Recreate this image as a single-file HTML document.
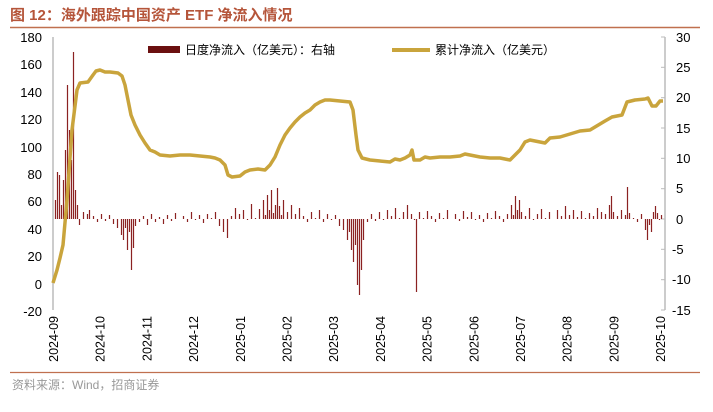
<!DOCTYPE html>
<html><head><meta charset="utf-8">
<style>
body{margin:0;background:#fff;width:713px;height:407px;overflow:hidden}
text{font-family:"Liberation Sans","Noto Sans CJK SC",sans-serif}
</style></head><body>
<svg width="713" height="407" xmlns="http://www.w3.org/2000/svg">
<text x="10" y="20" font-size="15" font-weight="bold" fill="#b5553a">图 12：海外跟踪中国资产 ETF 净流入情况</text>
<line x1="10" y1="27.5" x2="700" y2="27.5" stroke="#c0704f" stroke-width="1.5"/>
<g font-size="13" fill="#000" text-anchor="end">
<text x="42" y="42">180</text><text x="42" y="69">160</text><text x="42" y="97">140</text><text x="42" y="124">120</text><text x="42" y="152">100</text><text x="42" y="179">80</text><text x="42" y="206">60</text><text x="42" y="234">40</text><text x="42" y="261">20</text><text x="42" y="289">0</text><text x="42" y="316">-20</text>
</g>
<line x1="53" y1="37" x2="53" y2="310" stroke="#bbb" stroke-width="1.5"/>
<line x1="665" y1="37" x2="665" y2="310" stroke="#bbb" stroke-width="1.5"/>
<g stroke="#bbb" stroke-width="1">
<line x1="665" y1="37" x2="661" y2="37"/><line x1="665" y1="67.3" x2="661" y2="67.3"/><line x1="665" y1="97.7" x2="661" y2="97.7"/><line x1="665" y1="128" x2="661" y2="128"/><line x1="665" y1="158.3" x2="661" y2="158.3"/><line x1="665" y1="188.7" x2="661" y2="188.7"/><line x1="665" y1="219" x2="661" y2="219"/><line x1="665" y1="249.3" x2="661" y2="249.3"/><line x1="665" y1="279.7" x2="661" y2="279.7"/><line x1="665" y1="310" x2="661" y2="310"/>
</g>
<g font-size="13" fill="#000">
<text x="676" y="42">30</text><text x="676" y="72">25</text><text x="676" y="102">20</text><text x="676" y="133">15</text><text x="676" y="163">10</text><text x="676" y="193">5</text><text x="676" y="224">0</text><text x="672" y="254">-5</text><text x="672" y="284">-10</text><text x="672" y="315">-15</text>
</g>
<path fill="none" stroke="#8b2222" stroke-width="1.2" d="
M55.5 219V200 M57.5 219V172 M59.5 219V175 M61.5 219V205 M63.5 219V180 M65.5 219V150 M67.5 219V85 M69.5 219V130 M71.5 219V160 M73.5 219V52 M75.5 219V190 M77.5 219V205 M79.5 219V225
M83.5 219V212 M87.5 219V214 M89.5 219V210 M93.5 219V216 M97.5 219V222 M101.5 219V214 M105.5 219V221 M109.5 219V215 M113.5 219V224 M117.5 219V228 M121.5 219V235
M123.5 219V240 M125.5 219V228 M127.5 219V250 M129.5 219V232 M131.5 219V270 M133.5 219V248 M135.5 219V226 M139.5 219V222 M143.5 219V216 M147.5 219V225 M151.5 219V214 M155.5 219V222 M159.5 219V217 M163.5 219V224
M167.5 219V215 M171.5 219V221 M175.5 219V213 M179.5 219V219 M183.5 219V216 M187.5 219V222 M191.5 219V212 M195.5 219V220 M199.5 219V215 M203.5 219V223 M207.5 219V214 M211.5 219V218 M215.5 219V212 M219.5 219V226 M223.5 219V232 M227.5 219V238
M231.5 219V216 M235.5 219V208 M239.5 219V214 M243.5 219V210 M247.5 219V220 M251.5 219V204 M255.5 219V218 M259.5 219V209 M263.5 219V200 M265.5 219V215 M267.5 219V195 M269.5 219V210 M271.5 219V190 M273.5 219V213 M275.5 219V205 M277.5 219V188 M279.5 219V206 M281.5 219V215 M283.5 219V200 M287.5 219V212 M291.5 219V205 M295.5 219V214 M299.5 219V208 M303.5 219V216 M307.5 219V222 M311.5 219V212 M315.5 219V218 M319.5 219V210 M323.5 219V222 M327.5 219V214 M331.5 219V220 M335.5 219V215 M339.5 219V226 M343.5 219V230
M347.5 219V240 M349.5 219V232 M351.5 219V250 M353.5 219V262 M355.5 219V245 M357.5 219V285 M359.5 219V295 M361.5 219V270 M363.5 219V240 M367.5 219V222 M371.5 219V214 M375.5 219V221 M379.5 219V212 M383.5 219V220 M387.5 219V210 M391.5 219V216 M395.5 219V208 M399.5 219V218 M403.5 219V212 M407.5 219V205 M411.5 219V214 M414.5 219V220 M416.5 219V292 M419.5 219V212
M423.5 219V218 M427.5 219V211 M431.5 219V216 M435.5 219V222 M439.5 219V213 M443.5 219V218 M447.5 219V210 M451.5 219V219 M455.5 219V214 M459.5 219V221 M463.5 219V211 M467.5 219V217 M471.5 219V212 M475.5 219V220 M479.5 219V215 M483.5 219V222 M487.5 219V213 M491.5 219V218 M495.5 219V211 M499.5 219V216 M503.5 219V222 M507.5 219V214 M511.5 219V205 M513.5 219V215 M515.5 219V196 M517.5 219V210 M519.5 219V200 M521.5 219V212 M525.5 219V216 M529.5 219V208 M533.5 219V220 M537.5 219V214 M541.5 219V209 M545.5 219V218 M549.5 219V212 M553.5 219V219 M557.5 219V210 M561.5 219V216 M565.5 219V206 M569.5 219V215 M573.5 219V210 M577.5 219V217 M581.5 219V211 M585.5 219V218 M589.5 219V213 M593.5 219V216 M597.5 219V208 M601.5 219V212 M605.5 219V214 M609.5 219V205 M611.5 219V196 M613.5 219V212 M617.5 219V216 M621.5 219V210 M625.5 219V215 M627.5 219V187 M629.5 219V213 M633.5 219V218 M637.5 219V222 M641.5 219V214 M645.5 219V230 M647.5 219V240 M649.5 219V225 M651.5 219V232 M653.5 219V212 M655.5 219V206 M657.5 219V213 M659.5 219V220 M661.5 219V215"/>
<polyline fill="none" stroke="#c9a43c" stroke-width="3.5" stroke-linejoin="round" points="53,283 57,270 60,258 63,245 67,200 72,130 77,90 80,83 88,82 93,75 96,71 100,70 105,72 110,72 118,73 122,76 125,85 128,100 131,115 135,125 140,135 145,143 150,150 155,152 160,155 170,156 180,155 190,155 200,156 210,157 215,158 220,160 225,165 228,175 232,177 240,176 245,172 250,170 258,169 265,170 270,165 275,157 280,145 285,135 290,128 295,122 300,117 305,113 310,110 315,105 320,102 325,100 330,100 340,101 350,102 353,110 356,135 358,150 362,158 370,160 380,161 390,162 395,159 400,160 405,158 410,155 412,150 414,160 420,160 425,157 430,158 440,157 450,157 460,156 465,154 470,155 480,157 490,158 500,158 510,160 515,155 520,150 525,142 530,140 540,142 545,143 550,138 560,137 570,134 580,131 590,130 600,124 605,121 612,117 622,115 627,102 635,100 645,99 648,98 652,106 656,106 660,101 663,101"/>
<rect x="148" y="46" width="32" height="7" fill="#6b1010"/>
<text x="185" y="54" font-size="12" fill="#000">日度净流入（亿美元）：右轴</text>
<line x1="392" y1="50" x2="430" y2="50" stroke="#c9a43c" stroke-width="4"/>
<text x="435" y="54" font-size="12" fill="#000">累计净流入（亿美元）</text>
<g font-size="12.5" fill="#000" text-anchor="end">
<text transform="translate(58,316) rotate(-90)">2024-09</text>
<text transform="translate(104.7,316) rotate(-90)">2024-10</text>
<text transform="translate(151.4,316) rotate(-90)">2024-11</text>
<text transform="translate(198.1,316) rotate(-90)">2024-12</text>
<text transform="translate(244.8,316) rotate(-90)">2025-01</text>
<text transform="translate(291.5,316) rotate(-90)">2025-02</text>
<text transform="translate(338.2,316) rotate(-90)">2025-03</text>
<text transform="translate(384.9,316) rotate(-90)">2025-04</text>
<text transform="translate(431.6,316) rotate(-90)">2025-05</text>
<text transform="translate(478.3,316) rotate(-90)">2025-06</text>
<text transform="translate(525,316) rotate(-90)">2025-07</text>
<text transform="translate(571.7,316) rotate(-90)">2025-08</text>
<text transform="translate(618.4,316) rotate(-90)">2025-09</text>
<text transform="translate(665.1,316) rotate(-90)">2025-10</text>
</g>
<line x1="10" y1="372.5" x2="700" y2="372.5" stroke="#c0704f" stroke-width="1.2"/>
<text x="12" y="389" font-size="12" fill="#999">资料来源：Wind，招商证券</text>
</svg>
</body></html>
